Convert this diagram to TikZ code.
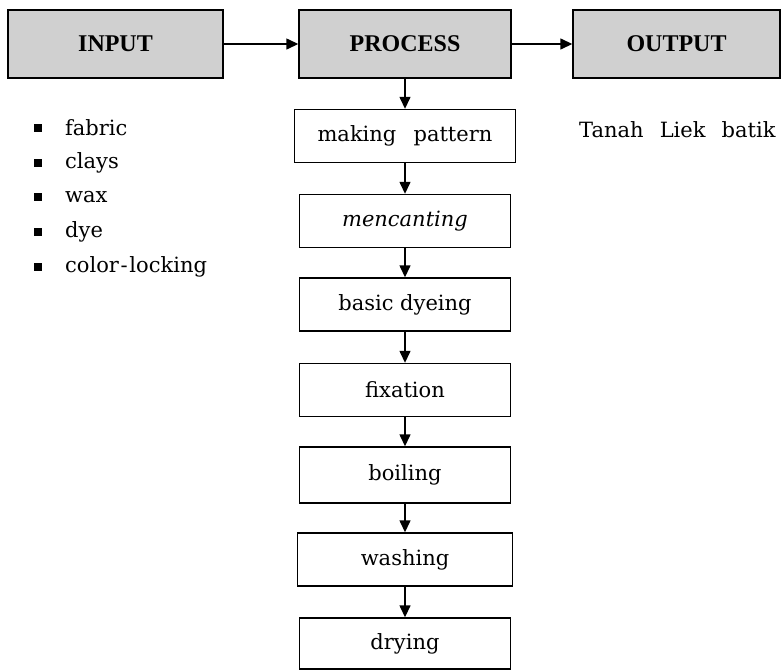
\documentclass[tikz,border=0pt]{standalone}
\usepackage{fontspec}
\setmainfont{DejaVu Serif}
\newfontfamily\headfont{Liberation Serif Bold}
\usetikzlibrary{arrows.meta}
\definecolor{boxgray}{RGB}{208,208,208}
\tikzset{
  headbox/.style={draw, fill=boxgray, line width=1.4pt, minimum width=215pt, minimum height=68pt, inner sep=0pt, font=\headfont\fontsize{24}{24}\selectfont},
  stepbox/.style={draw, fill=white, line width=1.4pt, minimum width=211pt, minimum height=53pt, inner sep=0pt, font=\fontsize{21}{21}\selectfont},
  conn/.style={line width=1.4pt, -{Triangle[length=12pt,width=11pt]}},
  bul/.style={fill=black, minimum size=8pt, inner sep=0pt},
  item/.style={anchor=west, inner sep=0pt, font=\fontsize{21}{21}\selectfont}
}
\begin{document}
\begin{tikzpicture}[x=1pt,y=-1pt]
\useasboundingbox (0,0) rectangle (781,670);
\node[headbox] (input) at (115.5,44) {INPUT};
\node[headbox, minimum width=212pt] (process) at (405,44) {PROCESS};
\node[headbox, minimum width=207pt] (output) at (676.5,44) {OUTPUT};
\draw[conn] (input) -- (process);
\draw[conn] (process) -- (output);

\node[stepbox, minimum width=221pt] (s1) at (405,136) {making\hspace{0.5em} pattern};
\node[stepbox] (s2) at (405,221) {\itshape mencanting};
\node[stepbox] (s3) at (405,304.5) {basic dyeing};
\node[stepbox] (s4) at (405,390) {fixation};
\node[stepbox, minimum height=56pt] (s5) at (405,475) {boiling};
\node[stepbox, minimum width=215pt] (s6) at (405,559.5) {washing};
\node[stepbox, minimum height=51pt] (s7) at (405,643.5) {drying};

\draw[conn] (process) -- (s1);
\draw[conn] (s1) -- (s2);
\draw[conn] (s2) -- (s3);
\draw[conn] (s3) -- (s4);
\draw[conn] (s4) -- (s5);
\draw[conn] (s5) -- (s6);
\draw[conn] (s6) -- (s7);

\node[bul] (b1) at (38,128) {};
\node[item] (i1) at (65,128) {fabric};
\node[bul] (b2) at (38,163) {};
\node[item] (i2) at (65,163) {clays};
\node[bul] (b3) at (38,197) {};
\node[item] (i3) at (65,197) {wax};
\node[bul] (b4) at (38,232) {};
\node[item] (i4) at (65,232) {dye};
\node[bul] (b5) at (38,267) {};
\node[item] (i5) at (65,267) {color\hspace{0.08em}-\hspace{0.08em}locking};

\node[item] (out) at (579,130) {Tanah\hspace{0.45em} Liek\hspace{0.45em} batik};
\end{tikzpicture}
\end{document}
